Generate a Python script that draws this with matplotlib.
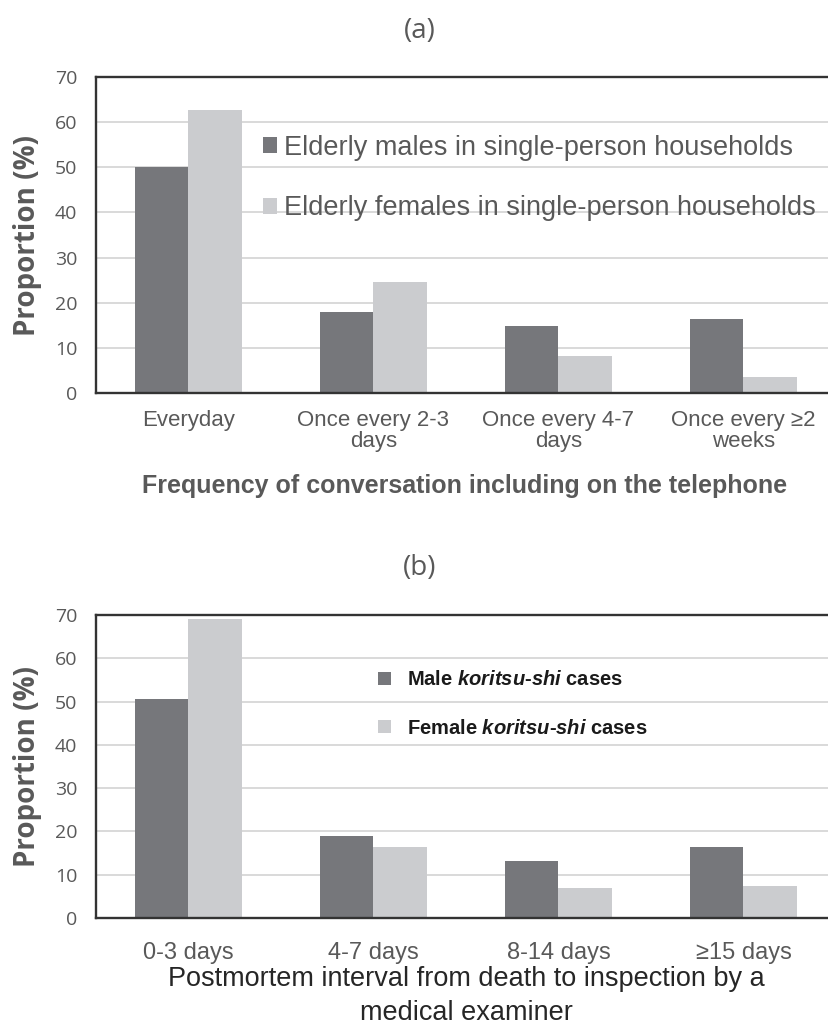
import matplotlib
matplotlib.use("Agg")
import matplotlib.pyplot as plt
import numpy as np

# ---- data -------------------------------------------------------------
conv_categories = ["Everyday", "Once every 2-3\ndays", "Once every 4-7\ndays", "Once every \u22652\nweeks"]
conv_male = [50.0, 18.0, 14.9, 16.4]
conv_female = [62.7, 24.5, 8.1, 3.6]

pmi_categories = ["0-3 days", "4-7 days", "8-14 days", "\u226515 days"]
pmi_male = [50.7, 19.0, 13.1, 16.3]
pmi_female = [69.1, 16.3, 7.0, 7.3]

y_ticks = [0, 10, 20, 30, 40, 50, 60, 70]

# ---- style ------------------------------------------------------------
MALE = "#76777b"
FEMALE = "#cbcccf"
GRID = "#d9d9d9"
TXT = "#595959"
FRAME = "#333333"
BAR_W = 0.2865

plt.rcParams["mathtext.fontset"] = "custom"
plt.rcParams["mathtext.it"] = "Liberation Sans:bold:italic"
plt.rcParams["mathtext.rm"] = "Liberation Sans:bold"

fig = plt.figure(figsize=(8.29, 10.28), dpi=100)
W, H = 829, 1028


def px_axes(left, top, right, bottom):
    return fig.add_axes([left / W, 1 - bottom / H, (right - left) / W, (bottom - top) / H])


def style_axes(ax, cats, tick_size, tick_color, xpad):
    x = np.arange(len(cats))
    ax.set_xlim(-0.5, len(cats) - 0.5)
    ax.set_ylim(0, 70)
    ax.set_yticks(y_ticks)
    ax.set_yticklabels([str(t) for t in y_ticks], family="Open Sans", fontsize=14, color=TXT)
    ax.set_xticks(x)
    ax.set_xticklabels(cats, family="Liberation Sans", fontsize=tick_size, color=tick_color,
                       linespacing=1.0)
    ax.tick_params(axis="both", length=0)
    ax.tick_params(axis="y", pad=13.5)
    ax.tick_params(axis="x", pad=xpad)
    ax.grid(axis="y", color=GRID, linewidth=1.4)
    ax.set_axisbelow(True)
    for side in ["top", "left", "bottom", "right"]:
        ax.spines[side].set_color(FRAME)
        ax.spines[side].set_linewidth(1.7)
    ax.set_ylabel("Proportion (%)", family="Open Sans",
                  fontsize=20, fontweight="bold", color=TXT)
    ax.yaxis.set_label_coords(-0.073, 0.5)


# ---- (a) conversation frequency --------------------------------------
ax1 = px_axes(96, 77, 836, 393)
x1 = np.arange(len(conv_categories))
ax1.bar(x1 - BAR_W / 2, conv_male, BAR_W, color=MALE,
        label="Elderly males in single-person households", zorder=2)
ax1.bar(x1 + BAR_W / 2, conv_female, BAR_W, color=FEMALE,
        label="Elderly females in single-person households", zorder=2)
style_axes(ax1, conv_categories, 16, TXT, 12)
ax1.set_xlabel("Frequency of conversation including on the telephone",
               family="Liberation Sans", fontsize=18, fontweight="bold", color=TXT)
ax1.xaxis.set_label_coords(0.498, -0.257)
leg1 = ax1.legend(loc="center left", bbox_to_anchor=(0.2257, 0.680), frameon=False,
                  prop={"family": "Liberation Sans", "size": 19.5},
                  handlelength=0.5, handleheight=0.5, handletextpad=0.27,
                  labelspacing=1.28, borderpad=0, borderaxespad=0)
for t in leg1.get_texts():
    t.set_color(TXT)
fig.text(420 / W, 1 - 31 / H, "(a)", family="Open Sans", fontsize=20, color=TXT,
         ha="center", va="center")

# ---- (b) postmortem interval -----------------------------------------
ax2 = px_axes(96, 615, 836, 918)
x2 = np.arange(len(pmi_categories))
ax2.bar(x2 - BAR_W / 2, pmi_male, BAR_W, color=MALE,
        label=r"Male $koritsu$-$shi$ cases", zorder=2)
ax2.bar(x2 + BAR_W / 2, pmi_female, BAR_W, color=FEMALE,
        label=r"Female $koritsu$-$shi$ cases", zorder=2)
style_axes(ax2, pmi_categories, 17, TXT, 17)
ax2.set_xlabel("Postmortem interval from death to inspection by a\nmedical examiner",
               family="Liberation Sans", fontsize=19.5, color="#262626", linespacing=1.38)
ax2.xaxis.set_label_coords(0.5, -0.16)
leg2 = ax2.legend(loc="center left", bbox_to_anchor=(0.381, 0.706), frameon=False,
                  prop={"family": "Liberation Sans", "size": 14.5, "weight": "bold"},
                  handlelength=0.65, handleheight=0.65, handletextpad=0.8,
                  labelspacing=1.45, borderpad=0, borderaxespad=0)
for t in leg2.get_texts():
    t.set_color("#1a1a1a")
fig.text(420 / W, 1 - 568 / H, "(b)", family="Open Sans", fontsize=20, color=TXT,
         ha="center", va="center")

fig.savefig("out.png", dpi=100, facecolor="white")
